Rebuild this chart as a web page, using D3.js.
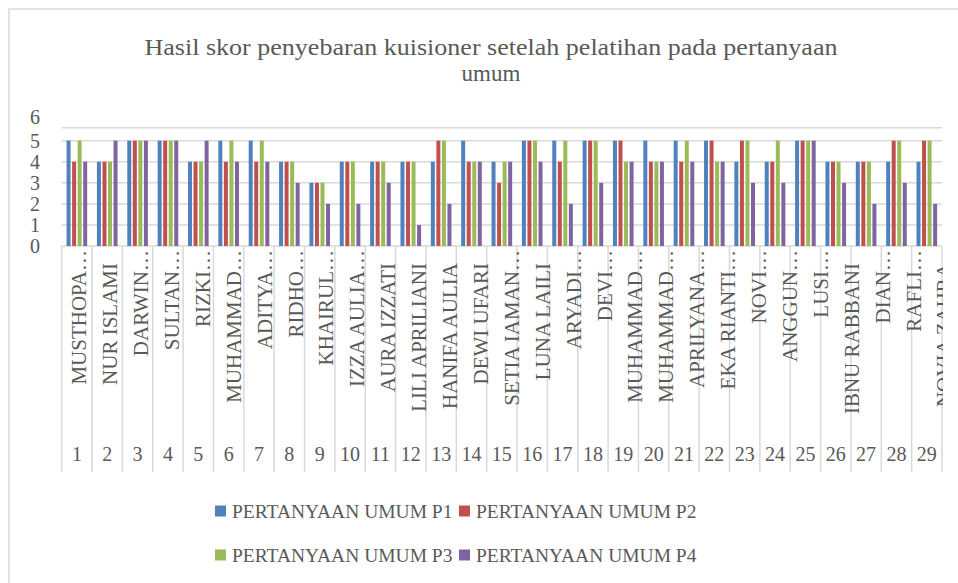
<!DOCTYPE html>
<html>
<head>
<meta charset="utf-8">
<script src="https://cdn.jsdelivr.net/npm/d3@7"></script>
<style>
  html, body { margin: 0; padding: 0; background: #fff; overflow: hidden; }
  text { font-family: "Liberation Serif", "DejaVu Serif", serif; fill: #595959; }
</style>
</head>
<body>
<svg width="958" height="583"></svg>
<script>
// data
const numbers = d3.range(1, 30).map(String)
const names = [
  'MUSTHOPA…', 'NUR ISLAMI', 'DARWIN…', 'SULTAN…', 'RIZKI…', 'MUHAMMAD…',
  'ADITYA…', 'RIDHO…', 'KHAIRUL…', 'IZZA AULIA…', 'AURA IZZATI', 'LILI APRILIANI',
  'HANIFA AULIA', 'DEWI UFARI', 'SETIA IAMAN…', 'LUNA LAILI', 'ARYADI…', 'DEVI…',
  'MUHAMMAD…', 'MUHAMMAD…', 'APRILYANA…', 'EKA RIANTI…', 'NOVI…', 'ANGGUN…',
  'LUSI…', 'IBNU RABBANI', 'DIAN…', 'RAFLI…', 'NOVIA ZAHRA'
]
const series = ['PERTANYAAN UMUM P1', 'PERTANYAAN UMUM P2', 'PERTANYAAN UMUM P3', 'PERTANYAAN UMUM P4']
const p1 = [5, 4, 5, 5, 4, 5, 5, 4, 3, 4, 4, 4, 4, 5, 4, 5, 5, 5, 5, 5, 5, 5, 4, 4, 5, 4, 4, 4, 4]
const p2 = [4, 4, 5, 5, 4, 4, 4, 4, 3, 4, 4, 4, 5, 4, 3, 5, 4, 5, 5, 4, 4, 5, 5, 4, 5, 4, 4, 5, 5]
const p3 = [5, 4, 5, 5, 4, 5, 5, 4, 3, 4, 4, 4, 5, 4, 4, 5, 5, 5, 4, 4, 5, 4, 5, 5, 5, 4, 4, 5, 5]
const p4 = [4, 5, 5, 5, 5, 4, 4, 3, 2, 2, 3, 1, 2, 4, 4, 4, 2, 3, 4, 4, 4, 4, 3, 3, 5, 3, 2, 3, 2]
const yTicks = [0, 1, 2, 3, 4, 5, 6]
const colors = ['#4f81bd', '#c0504d', '#9bbb59', '#8064a2']

const values = [p1, p2, p3, p4]
const rows = numbers.map((n, i) => ({ n, vals: values.map((s, j) => ({ key: series[j], v: s[i] })) }))

const svg = d3.select('svg')

// chart border (cut off on the right and bottom in the reference)
svg.append('rect')
  .attr('x', 9).attr('y', 9).attr('width', 1000).attr('height', 620)
  .attr('fill', 'none').attr('stroke', '#d9d9d9').attr('stroke-width', 1.5)

const left = 61.7, right = 942, top0 = 246

const x0 = d3.scaleBand().domain(numbers).range([left, right])
const x1 = d3.scaleBand().domain(series).range([0, x0.bandwidth()])
  .paddingInner(0.28).paddingOuter(0.88)
const y = d3.scaleLinear().domain([0, 5, 6]).range([top0, 140.7, 127.7])
const yLabel = d3.scaleLinear().domain([0, 5, 6]).range([top0 + 0.5, 141.5, 117])
const color = d3.scaleOrdinal().domain(series).range(colors)

// title
const title = svg.append('text')
  .attr('text-anchor', 'middle').style('font-size', '23px')
title.append('tspan').attr('x', 491).attr('y', 55)
  .attr('textLength', 693).attr('lengthAdjust', 'spacingAndGlyphs')
  .text('Hasil skor penyebaran kuisioner setelah pelatihan pada pertanyaan')
title.append('tspan').attr('x', 491).attr('y', 81)
  .text('umum')

// gridlines
svg.append('g')
  .selectAll('line')
  .data(yTicks)
  .join('line')
  .attr('x1', left).attr('x2', right)
  .attr('y1', d => y(d)).attr('y2', d => y(d))
  .attr('stroke', '#d9d9d9').attr('stroke-width', 1.5)

// y labels
const yAxis = svg.append('g')
  .attr('transform', 'translate(40,0)')
  .call(d3.axisLeft(yLabel).tickValues(yTicks).tickFormat(d3.format('d')).tickSize(0).tickPadding(0))
yAxis.select('.domain').remove()
yAxis.selectAll('text')
  .style('font-size', '20px')
  .style('font-family', '"Liberation Serif", serif')
  .attr('fill', '#595959')

// bars
svg.append('g')
  .selectAll('g')
  .data(rows)
  .join('g')
  .attr('transform', d => `translate(${x0(d.n)},0)`)
  .selectAll('rect')
  .data(d => d.vals)
  .join('rect')
  .attr('x', d => x1(d.key))
  .attr('width', x1.bandwidth())
  .attr('y', d => y(d.v))
  .attr('height', d => y(0) - y(d.v))
  .attr('fill', d => color(d.key))

// category separators
svg.append('g')
  .selectAll('line')
  .data(numbers.map(n => x0(n)).concat([right]))
  .join('line')
  .attr('x1', d => d).attr('x2', d => d)
  .attr('y1', top0).attr('y2', 472)
  .attr('stroke', '#d9d9d9').attr('stroke-width', 1.5)

// name labels: spaced a bit wider than the slots, last one clipped at the edge
svg.append('clipPath').attr('id', 'clip')
  .append('rect').attr('x', 0).attr('y', 0).attr('width', 943).attr('height', 583)

const xName = d3.scaleBand().domain(d3.range(names.length)).range([63.5, 959.5])
svg.append('g')
  .attr('clip-path', 'url(#clip)')
  .selectAll('text')
  .data(names.map((name, i) => ({ name, i })))
  .join('text')
  .attr('transform', d => {
    const cx = xName(d.i) + xName.bandwidth() / 2
    const ty = d.name.endsWith('…') ? 250 : 263
    return `translate(${cx},${ty}) rotate(-90)`
  })
  .attr('dy', '0.35em')
  .attr('text-anchor', 'end')
  .style('font-size', '21px')
  .text(d => d.name)

// number labels
svg.append('g')
  .selectAll('text')
  .data(numbers)
  .join('text')
  .attr('x', d => x0(d) + x0.bandwidth() / 2)
  .attr('y', 461)
  .attr('text-anchor', 'middle')
  .style('font-size', '20px')
  .text(d => d)

// legend
const legend = svg.append('g')
  .selectAll('g')
  .data(series)
  .join('g')
  .attr('transform', (d, i) => `translate(${[215, 459][i % 2]},${[511, 555][Math.floor(i / 2)]})`)
legend.append('rect')
  .attr('x', 0).attr('y', -5.5).attr('width', 11).attr('height', 11)
  .attr('fill', d => color(d))
legend.append('text')
  .attr('x', 17).attr('y', 7)
  .style('font-size', '19.5px')
  .text(d => d)
</script>
</body>
</html>
